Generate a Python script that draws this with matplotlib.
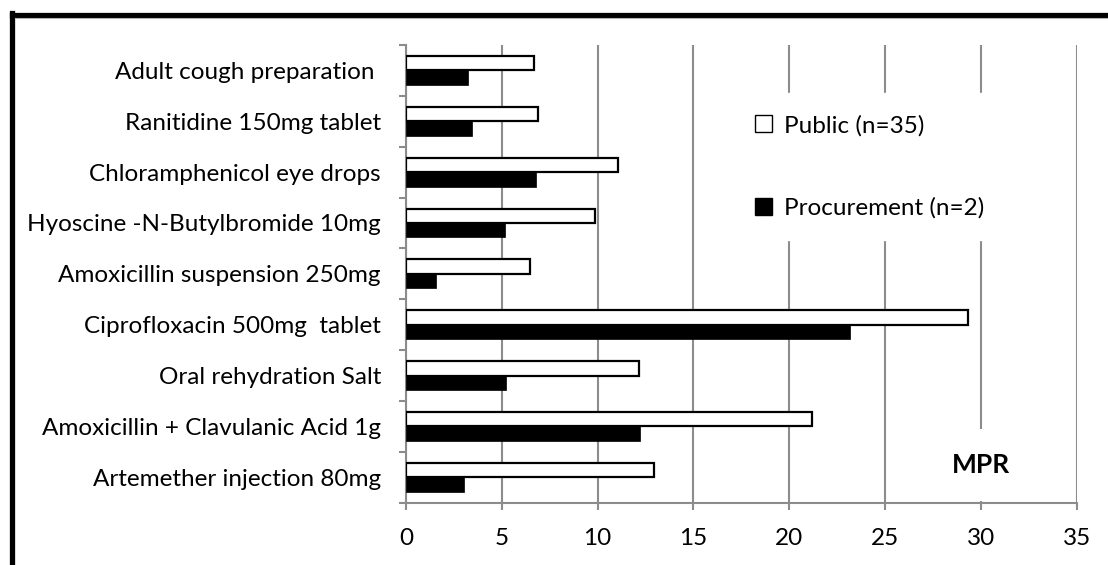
import matplotlib.pyplot as plt
import matplotlib.patches as mpatches
from matplotlib.lines import Line2D
import numpy as np

plt.rcParams['font.family'] = ['Lato', 'DejaVu Sans']

medicines = ["Adult cough preparation ", "Ranitidine 150mg tablet", "Chloramphenicol eye drops",
             "Hyoscine -N-Butylbromide 10mg", "Amoxicillin suspension 250mg", "Ciprofloxacin 500mg  tablet",
             "Oral rehydration Salt", "Amoxicillin + Clavulanic Acid 1g", "Artemether injection 80mg"]
public = [6.67, 6.9, 11.08, 9.84, 6.46, 29.32, 12.18, 21.21, 12.94]
procurement = [3.25, 3.43, 6.8, 5.16, 1.57, 23.18, 5.22, 12.21, 3.03]

fig = plt.figure(figsize=(11.08, 5.65), dpi=100)
ax = fig.add_axes([406 / 1108, 1 - 502.7 / 565, 670.7 / 1108, 457.7 / 565])

y = np.arange(len(medicines))
h = 0.285
grey = '#8c8c8c'

ax.barh(y - h / 2, public, height=h, color='white', edgecolor='black', linewidth=1.6, label='Public (n=35)', zorder=3)
ax.barh(y + h / 2, procurement, height=h, color='black', edgecolor='black', linewidth=0.5, label='Procurement (n=2)', zorder=3)

ax.set_xlim(0, 35)
ax.set_ylim(8.5, -0.5)
ax.set_xticks(np.arange(0, 36, 5))
ax.set_yticks(y)
ax.set_yticklabels(medicines)
ax.set_yticks(np.arange(-0.5, 9, 1), minor=True)

ax.grid(axis='x', color=grey, linewidth=1.5, zorder=0)
ax.set_axisbelow(True)
for s in ['top', 'right']:
    ax.spines[s].set_visible(False)
ax.spines['left'].set_color(grey)
ax.spines['bottom'].set_color(grey)
ax.spines['left'].set_linewidth(1.5)
ax.spines['bottom'].set_linewidth(1.5)

ax.tick_params(axis='y', which='major', length=0, pad=18, labelsize=17.5)
ax.tick_params(axis='y', which='minor', length=5, width=1.5, color=grey)
ax.tick_params(axis='x', length=5, width=1.5, color=grey, pad=13, labelsize=17.5)

leg = ax.legend(handles=[mpatches.Patch(facecolor='white', edgecolor='black', label='Public (n=35)'),
                         mpatches.Patch(facecolor='black', edgecolor='black', label='Procurement (n=2)')],
                loc='upper left', bbox_to_anchor=(0.47, 0.922), fontsize=17.5, frameon=True,
                fancybox=False, framealpha=1, edgecolor='white', facecolor='white',
                handlelength=0.7, handleheight=0.7, handletextpad=0.5, labelspacing=2.5, borderpad=0.9)
leg.set_zorder(5)

ax.text(30, 0.082, 'MPR', transform=ax.get_xaxis_transform(), ha='center', va='center',
        fontsize=19, fontweight='bold', zorder=5,
        bbox=dict(boxstyle='square,pad=0.9', facecolor='white', edgecolor='none'))

# frame of the original figure box (top and left edges only)
fig.add_artist(Line2D([12 / 1108, 1], [1 - 14.5 / 565, 1 - 14.5 / 565], color='black', linewidth=3.8))
fig.add_artist(Line2D([12 / 1108, 12 / 1108], [0, 1 - 12.5 / 565], color='black', linewidth=3.8))
fig.add_artist(Line2D([15 / 1108, 1], [1 - 18 / 565, 1 - 18 / 565], color='#b0b0b0', linewidth=0.8))

fig.savefig('out.png', dpi=100)
